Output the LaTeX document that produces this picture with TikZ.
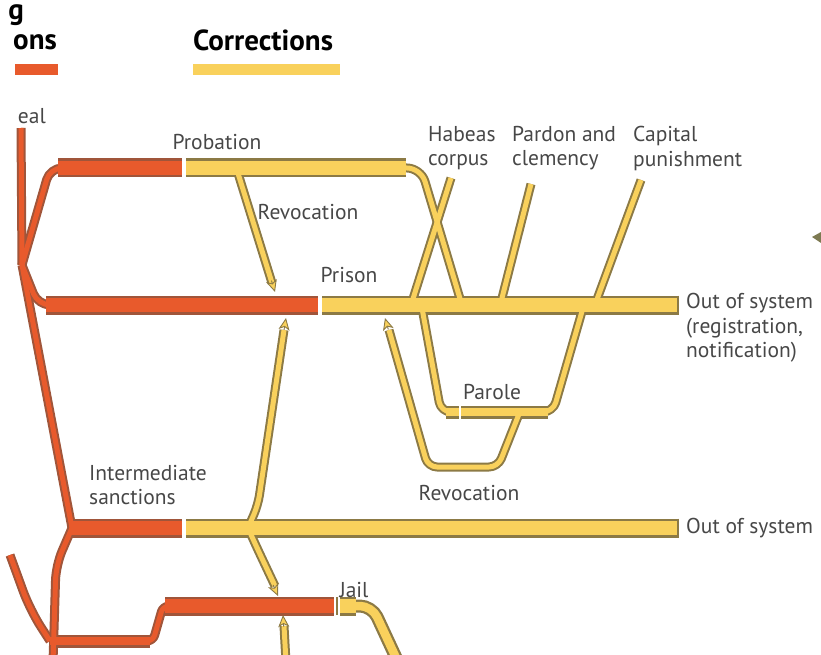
\documentclass[tikz,border=0pt]{standalone}
\usepackage{fontspec}
\setmainfont{PT Sans}
\usetikzlibrary{arrows.meta,calc}

\definecolor{redfill}{HTML}{E85A2C}
\definecolor{redline}{HTML}{A0553A}
\definecolor{yelfill}{HTML}{F9D15C}
\definecolor{yelline}{HTML}{8C7A45}
\definecolor{labelgray}{HTML}{474747}
\definecolor{olivemark}{HTML}{7D7A52}

% red pipes, drawn twice: outline pass then fill pass %
\newcommand{\redpipes}{%
  \draw[thin tube] (rtop) -- (rfork);
  \draw[thin tube,rounded corners=12pt] (rfork) -- (50,168) -- (70,168);
  \draw[wide tube] (probL) -- (probM);
  \draw[thin tube,rounded corners=12pt] (rfork) -- (38,305) -- (60,305);
  \draw[wide tube] (prisL) -- (prisM);
  \draw[thin tube] (rfork) -- (intJ);
  \draw[wide tube] (intJ) -- (intM);
  \draw[thin tube,rounded corners=15pt] (intJ) -- (56,565) -- (lowE);
  \draw[thin tube,rounded corners=20pt] (farL) -- (30,610) -- (botL);
  \draw[mid tube] (botL) -- (botR);
  \draw[thin tube,rounded corners=6pt] (140,641) -- (153,641) -- (163,606) -- (180,606);
  \draw[wide tube] (jailL) -- (jailM);
}

% yellow pipes, same two passes %
\newcommand{\yelpipes}{%
  \draw[wide tube] (probY) -- (probE);
  \draw[thin tube,rounded corners=14pt] (395,168) -- (421,168) -- (probX);
  \draw[thin tube] (habT) -- (habB);
  \draw[thin tube] (parT) -- (parB);
  \draw[thin tube] (capT) -- (capB);
  \draw[wide tube] (prisY) -- (prisE);
  \draw[wide tube] (intY) -- (intE);
  \draw[thin tube,rounded corners=10pt] (422,308) -- (441,412) -- (553,412) -- (583,308);
  \draw[mid tube] (paroleL) -- (paroleR);
  \draw[thin tube,rounded corners=9pt] (519,414) -- (498,467) -- (428,467) -- (revB);
  \draw[wide tube] (jailY) -- (356,606);
  \draw[mid tube,rounded corners=12pt] (350,606) -- (372,606) -- (jailE);
  %arrow shafts%
  \draw[thin tube] (probRevA) -- (probRevB);
  \draw[thin tube,rounded corners=10pt] (intArr) -- (258,505) -- (upB);
  \draw[thin tube,rounded corners=10pt] (intArr) -- (258,550) -- (downB);
  \draw[thin tube] (jailUpA) -- (jailUpB);
}

\begin{document}
\begin{tikzpicture}[x=1pt,y=-1pt,line join=round,
  label text/.style={font=\fontsize{21.5}{24.5}\selectfont,text=labelgray,align=left,inner sep=0pt},
  head text/.style={font=\fontsize{29}{30}\selectfont\bfseries,text=black,inner sep=0pt},
  tip head/.style={draw=yelline,line width=0.9pt,-{Stealth[length=12pt,width=11pt,inset=3pt,fill=yelfill]}},
  outline pass/.style={wide tube/.style={line width=19pt},mid tube/.style={line width=13pt},thin tube/.style={line width=9pt}},
  fill pass/.style={wide tube/.style={line width=14pt},mid tube/.style={line width=8.5pt},thin tube/.style={line width=5pt}}]

  \useasboundingbox (0,0) rectangle (821,655);

  %Red network points%
  \coordinate (rtop) at (21,128);
  \coordinate (rfork) at (22,265);
  \coordinate (probL) at (58,168);
  \coordinate (probM) at (182,168);
  \coordinate (prisL) at (46,305);
  \coordinate (prisM) at (318,305);
  \coordinate (intJ) at (72,528);
  \coordinate (intM) at (182,528);
  \coordinate (lowE) at (53,662);
  \coordinate (farL) at (10,555);
  \coordinate (botL) at (50,641);
  \coordinate (botR) at (150,641);
  \coordinate (jailL) at (165,606);
  \coordinate (jailM) at (334,606);

  %Yellow network points%
  \coordinate (probY) at (186,168);
  \coordinate (probE) at (406,168);
  \coordinate (probX) at (461,302);
  \coordinate (habT) at (451,178);
  \coordinate (habB) at (412,302);
  \coordinate (parT) at (531,184);
  \coordinate (parB) at (501,302);
  \coordinate (capT) at (641,180);
  \coordinate (capB) at (596,302);
  \coordinate (prisY) at (322,305);
  \coordinate (prisE) at (678,305);
  \coordinate (intY) at (186,528);
  \coordinate (intE) at (678,528);
  \coordinate (paroleL) at (446,412);
  \coordinate (paroleR) at (548,412);
  \coordinate (revB) at (389,330);
  \coordinate (revTip) at (385,318);
  \coordinate (jailY) at (340,606);
  \coordinate (jailE) at (398,662);
  \coordinate (probRevA) at (237,170);
  \coordinate (probRevB) at (272,283);
  \coordinate (probRevTip) at (275,292);
  \coordinate (intArr) at (248,528);
  \coordinate (upB) at (284,330);
  \coordinate (upTip) at (286,318);
  \coordinate (downB) at (275,586);
  \coordinate (downTip) at (278,596);
  \coordinate (jailUpA) at (286,662);
  \coordinate (jailUpB) at (284,626);
  \coordinate (jailUpTip) at (283,615);

  %Legend%
  \fill[redfill] (15,64) rectangle (58,75);
  \fill[yelfill] (193,64) rectangle (340,75);
  \node[head text,anchor=base east] (sanctg) at (24,20) {g};
  \node[head text,anchor=base east] (sanctons) at (57,50) {ons};
  \node[head text,anchor=base west] (corrections) at (193,51) {Corrections};

  %Pipes%
  \begin{scope}[outline pass,color=redline] \redpipes \end{scope}
  \begin{scope}[fill pass,color=redfill] \redpipes \end{scope}
  \begin{scope}[outline pass,color=yelline] \yelpipes \end{scope}
  \begin{scope}[fill pass,color=yelfill] \yelpipes \end{scope}

  %Small marks on the pipes%
  \draw[yelline,line width=1.5pt] (337,597) -- (337,615);
  \draw[yelline,line width=1.5pt] (678,295.5) -- (678,314.5);
  \draw[yelline,line width=1.5pt] (678,518.5) -- (678,537.5);
  \draw[white,line width=1.5pt] (460,405) -- (460,419);

  %Arrow heads%
  \draw[tip head] ($(probRevTip)!12pt!(probRevA)$) -- (probRevTip);
  \draw[tip head] ($(upTip)!12pt!(upB)$) -- (upTip);
  \draw[tip head] ($(downTip)!12pt!(intArr)$) -- (downTip);
  \draw[tip head] ($(jailUpTip)!12pt!(jailUpA)$) -- (jailUpTip);
  \draw[tip head] ($(revTip)!12pt!(428,467)$) -- (revTip);
  \fill[olivemark] (812,237) -- (821,232) -- (821,243) -- cycle;

  %Labels%
  \node[label text,anchor=base east] (appeal) at (46,124) {eal};
  \node[label text] (probation) at (217,142) {Probation};
  \node[label text] (revUp) at (308,212) {Revocation};
  \node[label text] (prison) at (349,275) {Prison};
  \node[label text,anchor=north west] (habeas) at (428,126) {Habeas\\corpus};
  \node[label text,anchor=north west] (pardon) at (512,126) {Pardon and\\clemency};
  \node[label text,anchor=north west] (capital) at (633,126) {Capital\\punishment};
  \node[label text,anchor=north west] (outReg) at (686,293) {Out of system\\(registration,\\notification)};
  \node[label text] (parole) at (492,392) {Parole};
  \node[label text] (revLow) at (469,493) {Revocation};
  \node[label text,anchor=north west] (intermediate) at (89,465) {Intermediate\\sanctions};
  \node[label text,anchor=west] (outSys) at (686,528) {Out of system};
  \node[label text] (jail) at (354,590) {Jail};

\end{tikzpicture}
\end{document}
